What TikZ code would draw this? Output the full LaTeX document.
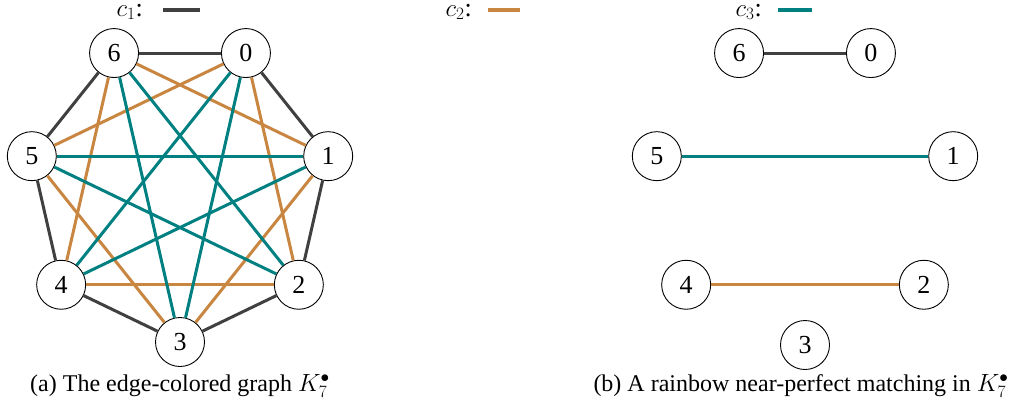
\documentclass[tikz,border=0pt]{standalone}
\usepackage{fontspec}
\setmainfont{Liberation Serif}
\definecolor{cone}{RGB}{64,64,64}
\definecolor{ctwo}{RGB}{200,134,65}
\definecolor{cthree}{RGB}{0,128,128}
\begin{document}
\begin{tikzpicture}[x=1pt,y=-1pt,
  vert/.style={circle,draw=black,line width=0.9pt,fill=white,minimum size=49pt,inner sep=0pt,font=\fontsize{26}{30}\selectfont},
  eone/.style={draw=cone,line width=3pt},
  etwo/.style={draw=ctwo,line width=3pt},
  ethree/.style={draw=cthree,line width=3pt},
  lab/.style={font=\fontsize{26}{30}\selectfont,inner sep=0pt,anchor=base east},
  captext/.style={font=\fontsize{24}{28}\selectfont,inner sep=0pt}]
\useasboundingbox (0,0) rectangle (1011,410);
% legend
\node[lab] (l1) at (143,16) {$c_1$:};
\coordinate (l1a) at (163,10); \coordinate (l1b) at (200,10);
\draw[eone,line width=3.4pt] (l1a) -- (l1b);
\node[lab] (l2) at (472,16) {$c_2$:};
\coordinate (l2a) at (488,10); \coordinate (l2b) at (520,10);
\draw[etwo,line width=3.4pt] (l2a) -- (l2b);
\node[lab] (l3) at (762,16) {$c_3$:};
\coordinate (l3a) at (778,10); \coordinate (l3b) at (812,10);
\draw[ethree,line width=3.4pt] (l3a) -- (l3b);
% left graph
\foreach \i/\a in {0/64.29,1/12.86,2/-38.57,3/-90,4/-141.43,5/167.14,6/115.71}{
  \node[vert] (a\i) at ({180+152*cos(\a)},{190-152*sin(\a)}) {\i};
}
\foreach \u/\v in {6/0,0/1,1/2,2/3,3/4,4/5,5/6}{\draw[eone] (a\u) -- (a\v);}
\foreach \u/\v in {6/1,0/5,0/2,6/4,1/3,5/3,4/2}{\draw[etwo] (a\u) -- (a\v);}
\foreach \u/\v in {6/2,0/4,0/3,6/3,5/1,5/2,1/4}{\draw[ethree] (a\u) -- (a\v);}
% right graph
\foreach \i/\a in {0/64.29,1/12.86,2/-38.57,4/-141.43,5/167.14,6/115.71}{
  \node[vert] (b\i) at ({805+152*cos(\a)},{190-152*sin(\a)}) {\i};
}
\node[vert] (b3) at (805,345) {3};
\draw[eone] (b6) -- (b0);
\draw[ethree] (b5) -- (b1);
\draw[etwo] (b4) -- (b2);
% captions
\node[captext] (capa) at (180,386) {(a) The edge-colored graph $K_7^{\bullet}$};
\node[captext] (capb) at (801,386) {(b) A rainbow near-perfect matching in $K_7^{\bullet}$};
\end{tikzpicture}
\end{document}
